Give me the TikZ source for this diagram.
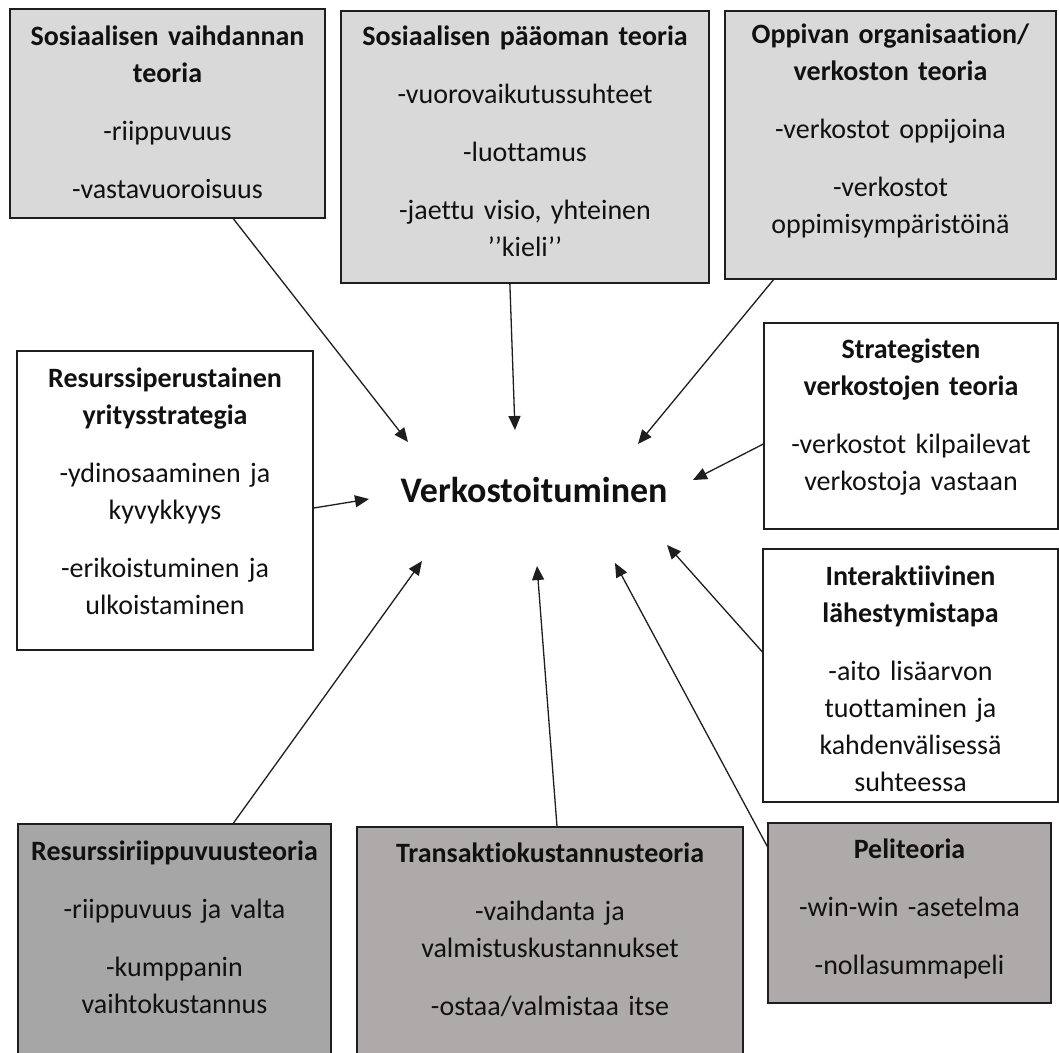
\documentclass[tikz,border=0pt]{standalone}
\usepackage{fontspec}
\setmainfont{Carlito}[Ligatures=NoCommon]
\usetikzlibrary{arrows.meta,calc}
\definecolor{lightbox}{HTML}{D9D9D9}
\definecolor{darkbox}{HTML}{A6A6A6}
\definecolor{warmbox}{HTML}{AEAAAA}
\definecolor{edge}{HTML}{1E1E1E}
\definecolor{ink}{HTML}{111111}
\tikzset{
  box/.style={draw=edge, line width=1.5pt, rectangle, inner sep=0pt},
  txt/.style={text=ink, align=center, inner sep=0pt, anchor=base,
    font=\fontsize{28}{37}\selectfont},
  link/.style={draw=edge, line width=1.3pt, -{Triangle[length=14pt,width=12pt]}},
}
\newcommand{\pg}{\\[21pt]}
\begin{document}
\begin{tikzpicture}[x=1pt,y=-1pt]
\clip (0,0) rectangle (1059,1052);
\fill[white] (0,0) rectangle (1059,1052);
% boxes
\node[box, fill=lightbox, minimum width=315pt, minimum height=209pt] (b1) at (167.5,113.5) {};
\node[box, fill=lightbox, minimum width=368pt, minimum height=272pt] (b2) at (525,147) {};
\node[box, fill=lightbox, minimum width=331pt, minimum height=268pt] (b3) at (890.5,145) {};
\node[box, fill=white, minimum width=294pt, minimum height=206pt] (b4) at (911,426) {};
\node[box, fill=white, minimum width=295pt, minimum height=253pt] (b5) at (910.5,675.5) {};
\node[box, fill=white, minimum width=296pt, minimum height=299pt] (b6) at (165,500.5) {};
\node[box, fill=darkbox, minimum width=313pt, minimum height=246pt] (b7) at (174.5,947) {};
\node[box, fill=warmbox, minimum width=386pt, minimum height=243pt] (b8) at (550,948.5) {};
\node[box, fill=warmbox, minimum width=283pt, minimum height=180pt] (b9) at (909.5,913) {};
% texts
\node[txt, text width=305pt] (t1) at (167.5,45) {\textbf{Sosiaalisen vaihdannan}\\\textbf{teoria}\pg -riippuvuus\pg -vastavuoroisuus};
\node[txt, text width=358pt] (t2) at (525,45) {\textbf{Sosiaalisen pääoman teoria}\pg -vuorovaikutussuhteet\pg -luottamus\pg -jaettu visio, yhteinen\\’’kieli’’};
\node[txt, text width=321pt] (t3) at (890.5,43) {\textbf{Oppivan organisaation/}\\\textbf{verkoston teoria}\pg -verkostot oppijoina\pg -verkostot\\oppimisympäristöinä};
\node[txt, text width=284pt] (t4) at (911,358) {\textbf{Strategisten}\\\textbf{verkostojen teoria}\pg -verkostot kilpailevat\\verkostoja vastaan};
\node[txt, text width=285pt] (t5) at (910.5,585) {\textbf{Interaktiivinen}\\\textbf{lähestymistapa}\pg -aito lisäarvon\\tuottaminen ja\\kahdenvälisessä\\suhteessa};
\node[txt, text width=286pt] (t6) at (165,387) {\textbf{Resurssiperustainen}\\\textbf{yritysstrategia}\pg -ydinosaaminen ja\\kyvykkyys\pg -erikoistuminen ja\\ulkoistaminen};
\node[txt, text width=303pt] (t7) at (174.5,860) {\textbf{Resurssiriippuvuusteoria}\pg -riippuvuus ja valta\pg -kumppanin\\vaihtokustannus};
\node[txt, text width=376pt] (t8) at (550,862) {\textbf{Transaktiokustannusteoria}\pg -vaihdanta ja\\valmistuskustannukset\pg -ostaa/valmistaa itse};
\node[txt, text width=273pt] (t9) at (909.5,858) {\textbf{Peliteoria}\pg -win-win -asetelma\pg -nollasummapeli};
% centre
\node[text=ink, inner sep=0pt, anchor=base, font=\fontsize{36}{43}\selectfont\bfseries] (c) at (534,502) {Verkostoituminen};
% arrow ends
\coordinate (e1) at (408,442);
\coordinate (e2) at (515,430);
\coordinate (e3) at (638,444);
\coordinate (e4) at (693,480);
\coordinate (e5) at (369,499);
\coordinate (e6) at (667,545);
\coordinate (e7) at (422,561);
\coordinate (e8) at (537,566);
\coordinate (e9) at (615,563);
% connectors
\draw[link] ($(b1.south west)!0.708!(b1.south east)$) -- (e1);
\draw[link] ($(b2.south west)!0.459!(b2.south east)$) -- (e2);
\draw[link] ($(b3.south west)!0.148!(b3.south east)$) -- (e3);
\draw[link] ($(b4.north west)!0.587!(b4.south west)$) -- (e4);
\draw[link] ($(b6.north east)!0.525!(b6.south east)$) -- (e5);
\draw[link] ($(b5.north west)!0.407!(b5.south west)$) -- (e6);
\draw[link] ($(b7.north west)!0.687!(b7.north east)$) -- (e7);
\draw[link] ($(b8.north west)!0.518!(b8.north east)$) -- (e8);
\draw[link] ($(b9.north west)!0.133!(b9.south west)$) -- (e9);
\end{tikzpicture}
\end{document}
